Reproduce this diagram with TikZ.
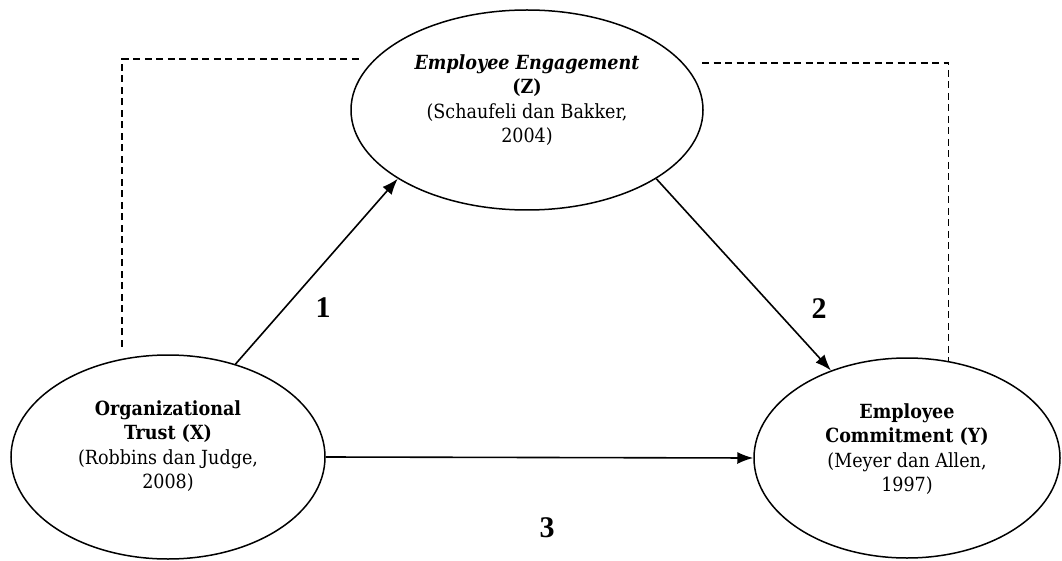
\documentclass[tikz,border=0pt]{standalone}
\usepackage{fontspec}
\setmainfont{DejaVu Serif Condensed}
\newfontfamily\numfont{Liberation Serif}
\usetikzlibrary{shapes.geometric,arrows.meta}
\begin{document}
\begin{tikzpicture}[x=1pt,y=-1pt]

% definitions
\tikzstyle{construct} = [ellipse, draw=black, line width=1.5pt, fill=white, inner sep=0pt]

\tikzstyle{constext} = [align=center, font=\fontsize{19.5}{24.5}\selectfont]

\tikzstyle{number} = [font=\numfont\fontsize{30}{30}\selectfont\bfseries]

\tikzstyle{arrow} = [-{Latex[length=16pt,width=12pt]}, line width=1.6pt]

\tikzstyle{dashline} = [line width=1.4pt, dash pattern=on 7pt off 4.5pt]

\useasboundingbox (0,0) rectangle (1062,561);

% the graph
\node (Z) [construct, minimum width=352pt, minimum height=200pt, label={[constext, yshift=10pt]center:{\textbf{\textit{Employee Engagement}}\\ \textbf{(Z)}\\ (Schaufeli dan Bakker,\\ 2004)}}] at (527,110) {};

\node (X) [construct, minimum width=314pt, minimum height=204pt, label={[constext, yshift=11pt]center:{\textbf{Organizational}\\ \textbf{Trust (X)}\\ (Robbins dan Judge,\\ 2008)}}] at (168,457) {};

\node (Y) [construct, minimum width=306pt, minimum height=200pt, label={[constext, yshift=9pt]center:{\textbf{Employee}\\ \textbf{Commitment (Y)}\\ (Meyer dan Allen,\\ 1997)}}] at (907,458) {};

\node (n1) [number] at (323,308) {1};
\node (n2) [number] at (819,309) {2};
\node (n3) [number] at (547,528) {3};

\draw [arrow] (X.54) -- (Z.208);
\draw [arrow] (Z.332) -- (Y.131);
\draw [arrow] (X.east) -- (Y.west);

\draw [dashline] ([yshift=12pt]X.115) |- (362,59);
\draw [dashline] (702,63) -| (Y.67);

\end{tikzpicture}
\end{document}
